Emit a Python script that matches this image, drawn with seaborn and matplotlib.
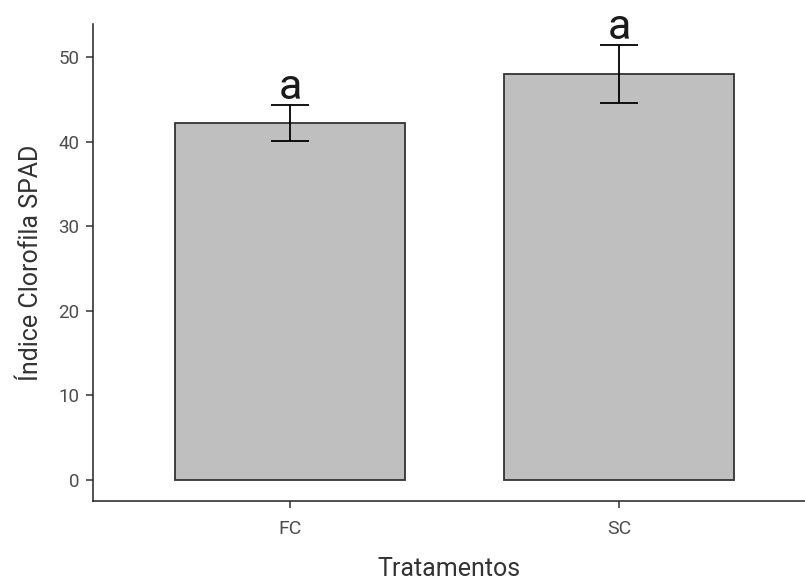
import pandas as pd
import matplotlib.pyplot as plt
import seaborn as sns

# data
tratamentos = ["FC", "SC"]
spad_media = [42.2, 48.0]
spad_erro = [2.1, 3.4]
letras = ["a", "a"]

df = pd.DataFrame({"Tratamentos": tratamentos, "SPAD": spad_media})

sns.set_theme(style="ticks")
plt.rcParams['font.family'] = ['Roboto', 'DejaVu Sans']

fig = plt.figure(figsize=(8.05, 5.81), dpi=100)
ax = fig.add_axes([93 / 805, 80 / 581, 712 / 805, 477 / 581])

sns.barplot(data=df, x="Tratamentos", y="SPAD", color="#BFBFBF", saturation=1,
            width=0.7, edgecolor="#333333", linewidth=1.3, errorbar=None, ax=ax)

ax.errorbar(range(len(tratamentos)), spad_media, yerr=spad_erro, fmt="none",
            ecolor="black", elinewidth=1.3, capsize=14, capthick=1.3)

for i, (m, e, l) in enumerate(zip(spad_media, spad_erro, letras)):
    ax.text(i, m + e + 0.7, l, ha="center", va="baseline", fontsize=31, color="#1a1a1a")

ax.set_xlim(-0.6, 1.565)
ax.set_ylim(-2.5, 53.9)
ax.set_yticks([0, 10, 20, 30, 40, 50])

sns.despine(ax=ax)
for s in ["left", "bottom"]:
    ax.spines[s].set_linewidth(1.1)
    ax.spines[s].set_color("#222222")
ax.tick_params(axis="both", length=5, width=1.1, color="#333333",
               labelcolor="#4D4D4D")
ax.tick_params(axis="y", labelsize=13.5, pad=5)
ax.tick_params(axis="x", labelsize=14, pad=9)

ax.set_xlabel("Tratamentos", fontsize=18, color="#333333", labelpad=13)
ax.set_ylabel("Índice Clorofila SPAD", fontsize=18, color="#333333", labelpad=11)

fig.savefig("out.png", dpi=100)
plt.close()
